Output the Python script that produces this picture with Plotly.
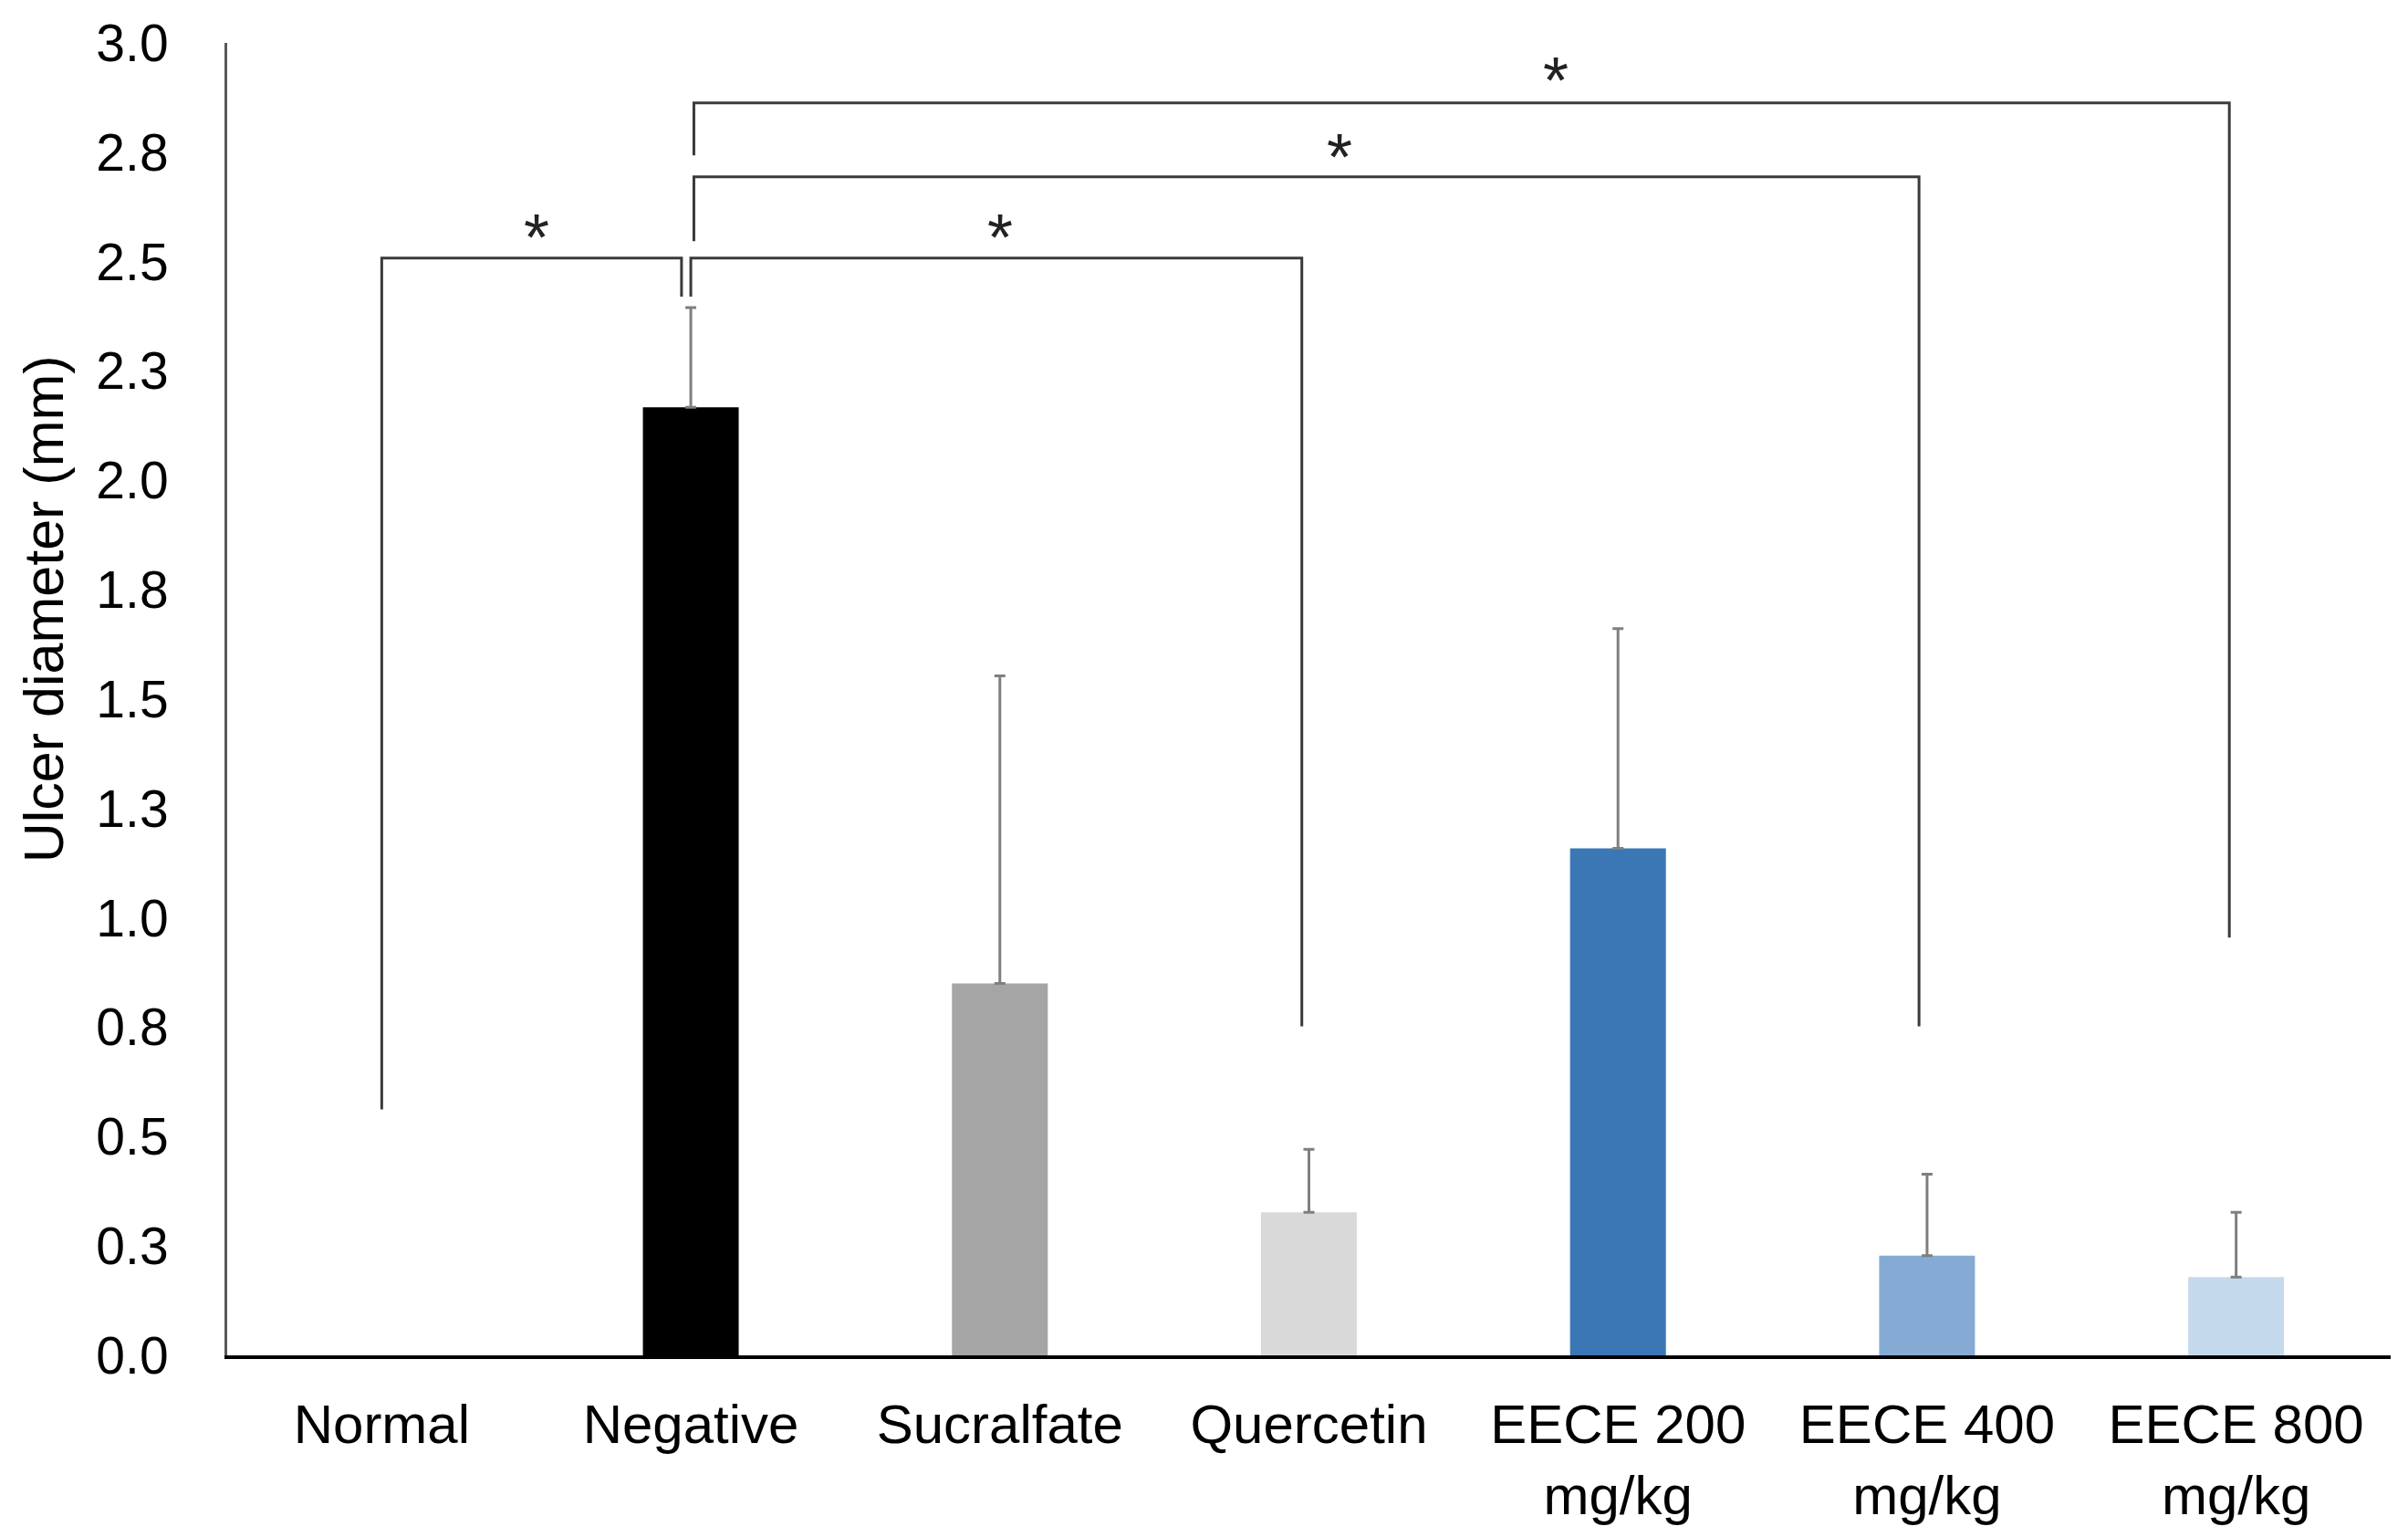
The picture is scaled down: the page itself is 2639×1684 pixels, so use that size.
import plotly.graph_objects as go

groups = ["Normal", "Negative", "Sucralfate", "Quercetin",
          "EECE 200<br>mg/kg", "EECE 400<br>mg/kg", "EECE 800<br>mg/kg"]
ulcer_mean = [0.0, 2.167, 0.85, 0.327, 1.159, 0.228, 0.179]
ulcer_err = [None, 0.228, 0.703, 0.144, 0.502, 0.186, 0.148]
bar_colors = ["#000000", "#000000", "#a5a5a5", "#d9d9d9", "#3b77b5", "#85abd5", "#c5d9ed"]

y_ticks = [0, 0.25, 0.5, 0.75, 1.0, 1.25, 1.5, 1.75, 2.0, 2.25, 2.5, 2.75, 3.0]
y_tick_text = ["0.0", "0.3", "0.5", "0.8", "1.0", "1.3", "1.5", "1.8",
               "2.0", "2.3", "2.5", "2.8", "3.0"]

# significance brackets: left x, right x, top, left leg end, right leg end
br_left = [0.0, 1.0, 1.01, 1.01]
br_right = [0.97, 2.977, 4.974, 5.978]
br_top = [2.508, 2.508, 2.694, 2.863]
br_left_end = [0.562, 2.42, 2.547, 2.743]
br_right_end = [2.42, 0.752, 0.752, 0.955]
star_x = [0.5, 2.0, 3.1, 3.8]
star_y = [2.555, 2.555, 2.74, 2.915]

font = "Liberation Sans, Arial, sans-serif"
xs = list(range(len(groups)))
# Normal has no error bar
bar_y = [v if e is not None else None for v, e in zip(ulcer_mean, ulcer_err)]

fig = go.Figure()
fig.add_trace(go.Bar(
    x=xs, y=bar_y, width=0.31,
    marker=dict(color=bar_colors, line=dict(width=0)),
    error_y=dict(type="data", array=[e or 0 for e in ulcer_err],
                 arrayminus=[0] * len(xs), symmetric=False,
                 color="#7f7f7f", thickness=3, width=6),
    showlegend=False,
))

for i in range(len(br_left)):
    fig.add_trace(go.Scatter(
        x=[br_left[i], br_left[i], br_right[i], br_right[i]],
        y=[br_left_end[i], br_top[i], br_top[i], br_right_end[i]],
        mode="lines", line=dict(color="#3a3a3a", width=3),
        showlegend=False, hoverinfo="skip",
    ))
    fig.add_annotation(x=star_x[i], y=star_y[i], text="*", showarrow=False,
                       font=dict(family=font, size=72, color="#222222"),
                       xanchor="center", yanchor="middle")

fig.add_annotation(text="Ulcer diameter (mm)", xref="paper", yref="paper",
                   x=-0.085, y=0.569, textangle=-90, showarrow=False,
                   font=dict(family=font, size=61, color="#000000"),
                   xanchor="center", yanchor="middle")

fig.update_layout(
    width=2639, height=1684,
    margin=dict(l=249, r=19, t=47, b=199),
    plot_bgcolor="white", paper_bgcolor="white",
    font=dict(family=font, size=57, color="#000000"),
    xaxis=dict(range=[-0.5, 6.5], tickvals=xs, ticktext=groups,
               tickfont=dict(size=60),
               showgrid=False, zeroline=False, showline=True,
               linecolor="#000000", linewidth=4, ticks="",
               ticklabelstandoff=20),
    yaxis=dict(range=[0, 3], tickvals=y_ticks, ticktext=y_tick_text,
               showgrid=False, zeroline=False, showline=True,
               linecolor="#595959", linewidth=3, ticks="",
               ticklabelstandoff=50),
)

# drop the default page margin so the figure fills the window exactly
fig.write_html("out.html", config={"displayModeBar": False},
               post_script="document.body.style.margin='0';")
